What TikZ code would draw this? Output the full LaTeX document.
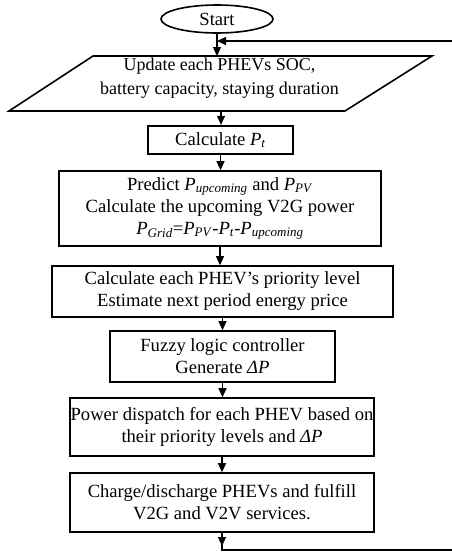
\documentclass[tikz,border=0pt]{standalone}
\usepackage{fontspec}
\setmainfont{Liberation Serif}
\usetikzlibrary{arrows.meta,shapes.geometric}
\newcommand{\Pit}[1]{\textit{P}\textsubscript{\textit{#1}}}
\tikzset{
  box/.style={draw, line width=1.6pt, rectangle, align=center, inner sep=0pt,
    font=\fontsize{18.6}{22}\selectfont},
  plain/.style={align=center, inner sep=0pt, font=\fontsize{18}{24}\selectfont},
  arr/.style={line width=1.2pt, -{Triangle[length=9pt,width=8pt]}},
  conn/.style={line width=1.2pt},
}
\begin{document}
\begin{tikzpicture}[x=1pt,y=-1pt]
\useasboundingbox (0,0) rectangle (451,552);
% start
\node[draw, ellipse, line width=1.6pt, minimum width=112pt, minimum height=28pt, inner sep=0pt,
  font=\fontsize{18.6}{22}\selectfont] (start) at (217,19) {Start};
% parallelogram
\node[plain] (upd) at (219.5,78.5) {Update each PHEVs SOC,\\battery capacity, staying duration};
\draw[line width=1.6pt, line join=miter] (93,56) -- (432,56) -- (345,111) -- (9,111) -- cycle;
\coordinate (updtop) at (217,56);
\coordinate (updbot) at (221,111);
\coordinate (loopin) at (217,41);
% boxes
\node[box, line width=2.2pt, minimum width=145pt, minimum height=28pt] (calc) at (220.5,140) {Calculate \Pit{t}};
\node[box, minimum width=322pt, minimum height=75pt] (pred) at (220,208.5)
  {Predict \Pit{upcoming} and \Pit{PV}\\Calculate the upcoming V2G power\\\Pit{Grid}=\Pit{PV}-\Pit{t}-\Pit{upcoming}};
\node[box, minimum width=341pt, minimum height=51pt] (prio) at (222.5,291.5)
  {Calculate each PHEV’s priority level\\Estimate next period energy price};
\node[box, minimum width=225pt, minimum height=51pt] (fuzzy) at (222.5,356.5)
  {Fuzzy logic controller\\Generate \textit{ΔP}};
\node[box, minimum width=304pt, minimum height=58pt] (disp) at (222,427)
  {Power dispatch for each PHEV based on\\their priority levels and \textit{ΔP}};
\node[box, minimum width=304pt, minimum height=59pt] (chg) at (222,502.5)
  {Charge/discharge PHEVs and fulfill\\V2G and V2V services.};
\coordinate (botarr) at (222,546);
\coordinate (bot) at (222,550);
\coordinate (botR) at (455,550);
\coordinate (topR) at (455,41);
% connectors
\draw[arr] (start.south) -- (updtop);
\draw[arr] (updbot) -- (updbot |- calc.north);
\draw[arr] (calc.south) -- (calc.south |- pred.north);
\draw[arr] (pred.south) -- (pred.south |- prio.north);
\draw[arr] (prio.south) -- (prio.south |- fuzzy.north);
\draw[arr] (fuzzy.south) -- (fuzzy.south |- disp.north);
\draw[arr] (disp.south) -- (disp.south |- chg.north);
\draw[arr] (chg.south) -- (botarr);
\draw[conn] (chg.south) -- (bot) -- (botR) -- (topR);
\draw[arr] (topR) -- (loopin);
\end{tikzpicture}
\end{document}
